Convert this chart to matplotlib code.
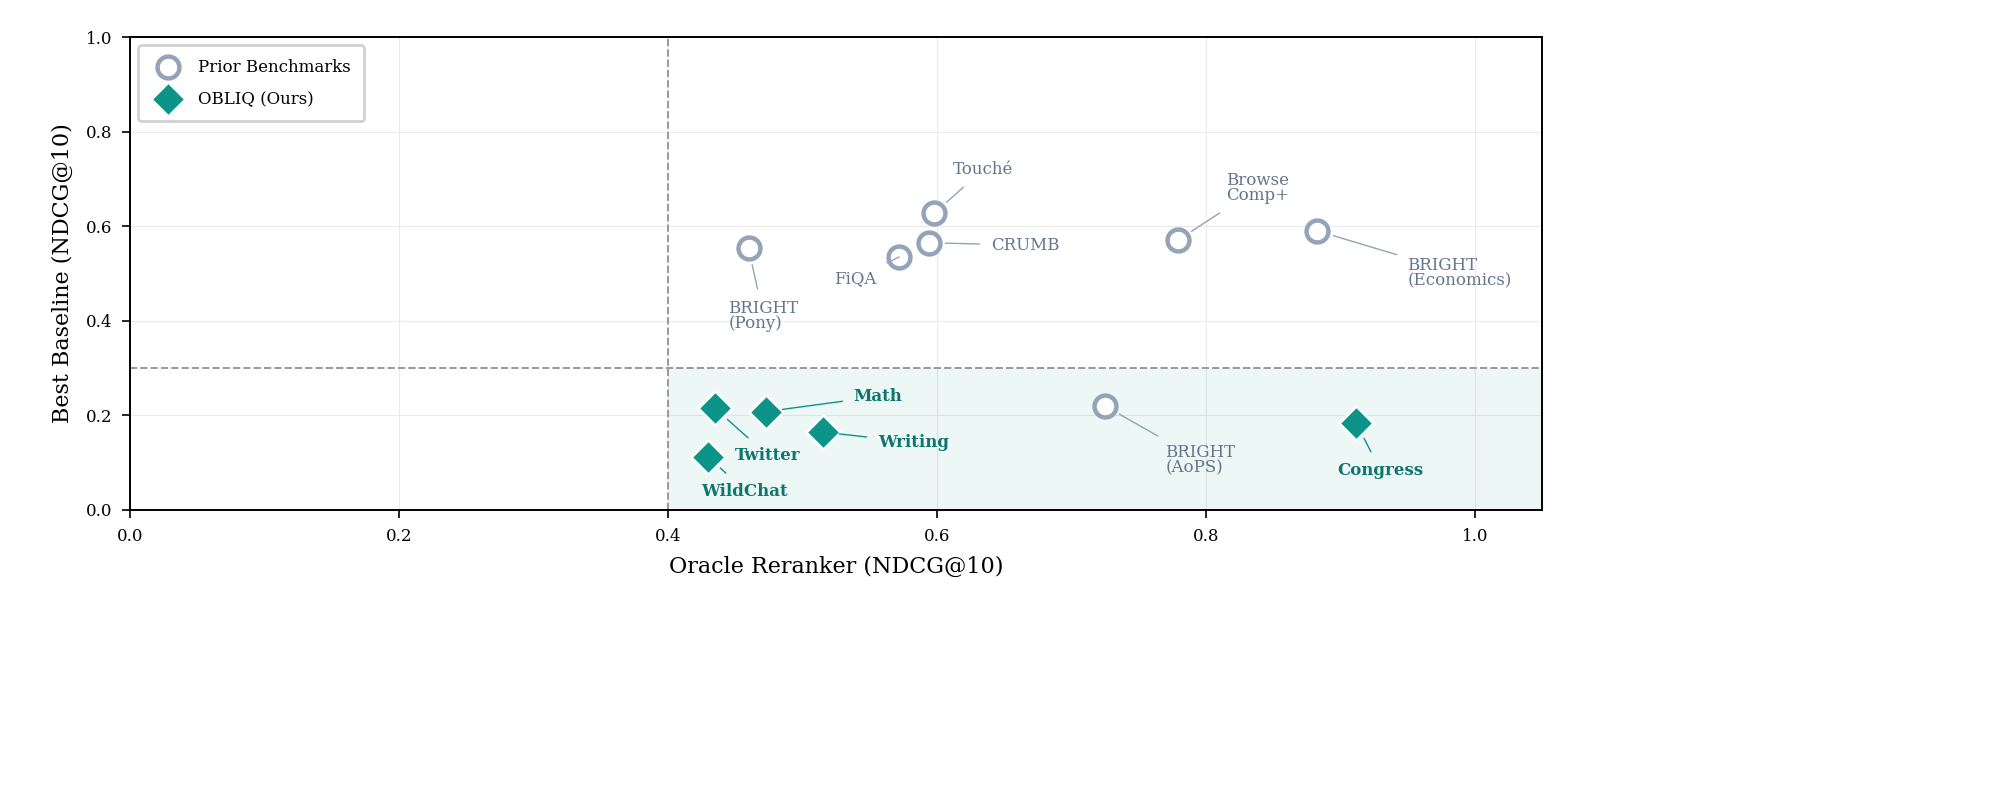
import matplotlib
matplotlib.use("Agg")
import matplotlib.pyplot as plt

plt.rcParams['font.family'] = ['DejaVu Serif']

prior_names = ["BRIGHT\n(Pony)", "FiQA", "CRUMB", "Touché", "Browse\nComp+", "BRIGHT\n(Economics)", "BRIGHT\n(AoPS)"]
prior_x = [0.460, 0.572, 0.594, 0.598, 0.779, 0.883, 0.725]
prior_y = [0.553, 0.535, 0.565, 0.627, 0.570, 0.590, 0.220]
prior_text = [(0.445, 0.41, 'left'), (0.555, 0.49, 'right'), (0.640, 0.56, 'left'),
              (0.612, 0.72, 'left'), (0.815, 0.68, 'left'), (0.950, 0.50, 'left'),
              (0.770, 0.105, 'left')]

ours_names = ["Twitter", "Math", "Writing", "WildChat", "Congress"]
ours_x = [0.435, 0.473, 0.515, 0.430, 0.912]
ours_y = [0.215, 0.208, 0.165, 0.113, 0.183]
ours_text = [(0.450, 0.115, 'left'), (0.538, 0.24, 'left'), (0.556, 0.143, 'left'),
             (0.425, 0.04, 'left'), (0.898, 0.083, 'left')]

grey = "#94A3B8"; grey_txt = "#64748B"
teal = "#0D9488"; teal_txt = "#0F766E"

fig = plt.figure(figsize=(10, 3.99), dpi=200)
ax = fig.add_axes([130/2000, 1-510/798, (1542-130)/2000, (510-37)/798])

ax.set_xlim(0, 1.05); ax.set_ylim(0, 1.0)
ax.axvspan(0.4, 1.05, ymin=0, ymax=0.3, color=teal, alpha=0.07, lw=0)
ax.axvline(0.4, color='#999999', ls='--', lw=0.7, zorder=1)
ax.axhline(0.3, color='#999999', ls='--', lw=0.7, zorder=1)
ax.grid(True, color='#e6e6e6', lw=0.4, alpha=0.8)
ax.set_axisbelow(True)

ax.scatter(prior_x, prior_y, s=62, facecolor='white', edgecolor=grey, linewidth=1.6, zorder=3, label='Prior Benchmarks')
ax.scatter(ours_x, ours_y, s=75, marker='D', facecolor=teal, edgecolor='white', linewidth=0.9, zorder=3, label='OBLIQ (Ours)')

for n, x, y, (tx, ty, ha) in zip(prior_names, prior_x, prior_y, prior_text):
    ax.annotate(n, (x, y), xytext=(tx, ty), ha=ha, va='center', fontsize=6, color=grey_txt,
                linespacing=0.85,
                arrowprops=dict(arrowstyle='-', color=grey, lw=0.5, shrinkA=2, shrinkB=6))
for n, x, y, (tx, ty, ha) in zip(ours_names, ours_x, ours_y, ours_text):
    ax.annotate(n, (x, y), xytext=(tx, ty), ha=ha, va='center', fontsize=6, color=teal_txt,
                fontweight='bold',
                arrowprops=dict(arrowstyle='-', color=teal, lw=0.5, shrinkA=2, shrinkB=6))

ax.set_xlabel("Oracle Reranker (NDCG@10)", fontsize=8)
ax.set_ylabel("Best Baseline (NDCG@10)", fontsize=8)
ax.tick_params(labelsize=6, width=0.6, length=3)
for s in ax.spines.values():
    s.set_linewidth(0.7)
ax.legend(loc='upper left', fontsize=6, framealpha=0.9, borderpad=0.8, labelspacing=0.9)
fig.savefig("out.png", dpi=200)
